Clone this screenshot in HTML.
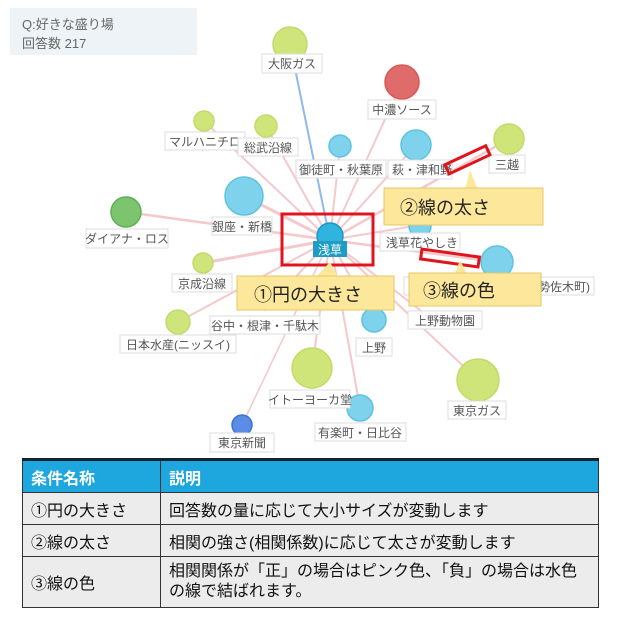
<!DOCTYPE html>
<html><head><meta charset="utf-8"><style>
body{margin:0;background:#fff;width:631px;height:620px;overflow:hidden;font-family:"Liberation Sans","Noto Sans CJK JP",sans-serif}
svg text{font-family:"Liberation Sans","Noto Sans CJK JP",sans-serif}
table{position:absolute;left:22px;top:458px;width:577px;border-collapse:collapse;font-size:16px;color:#111}
td{border:1.5px solid #333;padding:0 8px;background:#ececec}
th{background:#1ea6de;color:#fff;text-align:left;padding:0 8px;height:31px;border:1.5px solid #333;border-top:3px solid #123;font-size:16px}
</style></head><body>
<svg width="631" height="620" style="position:absolute;left:0;top:0">
<rect x="10" y="8" width="187" height="47" fill="#eef3f8"/>
<text x="22" y="29" font-size="13" fill="#666">Q:好きな盛り場</text>
<text x="22" y="48" font-size="13" fill="#666">回答数 217</text>
<g stroke="#f5c8cb" stroke-linecap="round">
<line x1="330" y1="240" x2="402" y2="82" stroke-width="2"/>
<line x1="330" y1="240" x2="204" y2="121" stroke-width="2"/>
<line x1="330" y1="240" x2="266" y2="126" stroke-width="2"/>
<line x1="330" y1="240" x2="340" y2="146" stroke-width="2"/>
<line x1="330" y1="240" x2="416" y2="145" stroke-width="2"/>
<line x1="330" y1="240" x2="509" y2="139" stroke-width="2.5"/>
<line x1="330" y1="240" x2="244" y2="196" stroke-width="3"/>
<line x1="330" y1="240" x2="126" y2="212" stroke-width="2.5"/>
<line x1="330" y1="240" x2="497" y2="262" stroke-width="2.5"/>
<line x1="330" y1="240" x2="203" y2="263" stroke-width="3"/>
<line x1="330" y1="240" x2="178" y2="322" stroke-width="2"/>
<line x1="330" y1="240" x2="374" y2="320" stroke-width="2"/>
<line x1="330" y1="240" x2="312" y2="368" stroke-width="2"/>
<line x1="330" y1="240" x2="360" y2="408" stroke-width="2"/>
<line x1="330" y1="240" x2="478" y2="380" stroke-width="2"/>
<line x1="330" y1="240" x2="242" y2="425" stroke-width="1.5"/>
<line x1="330" y1="240" x2="430" y2="318" stroke-width="2"/>
<line x1="330" y1="240" x2="265" y2="310" stroke-width="2"/>
<line x1="330" y1="240" x2="420" y2="225" stroke-width="2"/>
</g>
<line x1="330" y1="240" x2="290" y2="44" stroke="#8fb8ec" stroke-width="2"/>
<g stroke-width="1.5">
<circle cx="290" cy="44" r="17" fill="#cfe57a" stroke="#bfdc6a"/>
<circle cx="402" cy="82" r="17" fill="#e06b6b" stroke="#d55"/>
<circle cx="204" cy="121" r="10" fill="#cfe57a" stroke="#bfdc6a"/>
<circle cx="266" cy="126" r="11" fill="#cfe57a" stroke="#bfdc6a"/>
<circle cx="340" cy="146" r="11" fill="#7fd2ec" stroke="#5cc2e0"/>
<circle cx="416" cy="145" r="15" fill="#7fd2ec" stroke="#5cc2e0"/>
<circle cx="509" cy="139" r="15" fill="#cfe57a" stroke="#bfdc6a"/>
<circle cx="244" cy="196" r="19" fill="#7fd2ec" stroke="#5cc2e0"/>
<circle cx="126" cy="212" r="15" fill="#7cc46e" stroke="#5fae55"/>
<circle cx="420" cy="226" r="11" fill="#7fd2ec" stroke="#5cc2e0"/>
<circle cx="497" cy="262" r="16" fill="#7fd2ec" stroke="#5cc2e0"/>
<circle cx="203" cy="263" r="10" fill="#cfe57a" stroke="#bfdc6a"/>
<circle cx="178" cy="322" r="12" fill="#cfe57a" stroke="#bfdc6a"/>
<circle cx="374" cy="320" r="12" fill="#7fd2ec" stroke="#5cc2e0"/>
<circle cx="312" cy="368" r="20" fill="#cfe57a" stroke="#bfdc6a"/>
<circle cx="360" cy="408" r="13" fill="#7fd2ec" stroke="#5cc2e0"/>
<circle cx="478" cy="380" r="21" fill="#cfe57a" stroke="#bfdc6a"/>
<circle cx="242" cy="425" r="10" fill="#5b8de8" stroke="#3f72d0"/>
<circle cx="330" cy="236" r="13" fill="#2fb4de" stroke="#1a98c8"/>
</g>
<g font-size="12" fill="#555" stroke-width="1">
<rect x="262" y="54" width="60" height="19" fill="#fff" stroke="#ddd"/><text x="292" y="68" text-anchor="middle">大阪ガス</text>
<rect x="368" y="100" width="68" height="19" fill="#fff" stroke="#ddd"/><text x="402" y="114" text-anchor="middle">中濃ソース</text>
<rect x="165" y="132" width="80" height="18" fill="#fff" stroke="#ddd"/><text x="205" y="146" text-anchor="middle">マルハニチロ</text>
<rect x="238" y="138" width="60" height="18" fill="#fff" stroke="#ddd"/><text x="268" y="152" text-anchor="middle">総武沿線</text>
<rect x="296" y="160" width="90" height="18" fill="#fff" stroke="#ddd"/><text x="341" y="174" text-anchor="middle">御徒町・秋葉原</text>
<rect x="388" y="160" width="64" height="19" fill="#fff" stroke="#ddd"/><text x="392" y="174">萩・津和野</text>
<rect x="489" y="155" width="36" height="18" fill="#fff" stroke="#ddd"/><text x="507" y="169" text-anchor="middle">三越</text>
<rect x="212" y="217" width="60" height="18" fill="#fff" stroke="#ddd"/><text x="242" y="231" text-anchor="middle">銀座・新橋</text>
<rect x="86" y="229" width="82" height="19" fill="#fff" stroke="#ddd"/><text x="127" y="243" text-anchor="middle">ダイアナ・ロス</text>
<rect x="380" y="233" width="80" height="18" fill="#fff" stroke="#ddd"/><text x="386" y="247">浅草花やしき</text>
<rect x="404" y="277" width="190" height="18" fill="#fff" stroke="#ddd"/><text x="590" y="291" text-anchor="end">伊勢佐木町)</text>
<rect x="172" y="274" width="60" height="18" fill="#fff" stroke="#ddd"/><text x="202" y="288" text-anchor="middle">京成沿線</text>
<rect x="408" y="311" width="74" height="18" fill="#fff" stroke="#ddd"/><text x="445" y="325" text-anchor="middle">上野動物園</text>
<rect x="210" y="316" width="110" height="18" fill="#fff" stroke="#ddd"/><text x="265" y="330" text-anchor="middle">谷中・根津・千駄木</text>
<rect x="120" y="335" width="116" height="18" fill="#fff" stroke="#ddd"/><text x="178" y="349" text-anchor="middle">日本水産(ニッスイ)</text>
<rect x="356" y="338" width="36" height="18" fill="#fff" stroke="#ddd"/><text x="374" y="352" text-anchor="middle">上野</text>
<rect x="270" y="390" width="80" height="18" fill="#fff" stroke="#ddd"/><text x="310" y="404" text-anchor="middle">イトーヨーカ堂</text>
<rect x="448" y="401" width="58" height="18" fill="#fff" stroke="#ddd"/><text x="477" y="415" text-anchor="middle">東京ガス</text>
<rect x="315" y="423" width="91" height="18" fill="#fff" stroke="#ddd"/><text x="360" y="437" text-anchor="middle">有楽町・日比谷</text>
<rect x="210" y="433" width="64" height="19" fill="#fff" stroke="#ddd"/><text x="242" y="447" text-anchor="middle">東京新聞</text>
</g>
<rect x="313" y="241" width="34" height="16" fill="#1e9cc4"/>
<text x="330" y="254" font-size="12" fill="#fff" text-anchor="middle">浅草</text>
<rect x="282" y="214" width="91" height="51" fill="none" stroke="#e0141c" stroke-width="3"/>
<rect x="445" y="155" width="45" height="10" fill="none" stroke="#e0141c" stroke-width="3" transform="rotate(-25 467 160)"/>
<rect x="421" y="253" width="58" height="10" fill="none" stroke="#e0141c" stroke-width="3" transform="rotate(8 450 258)"/>
<g fill="#fde79a" stroke="#e2c96a">
<polygon points="465,190 470,170 478,190" stroke="none"/>
<rect x="384" y="188" width="159" height="37"/>
<polygon points="455,274 460,260 467,274" stroke="none"/>
<rect x="409" y="273" width="132" height="33"/>
<polygon points="316,277 330,262 338,277" stroke="none"/>
<rect x="237" y="276" width="157" height="34"/>
</g>
<text x="400" y="214" font-size="18" fill="#222">②線の太さ</text>
<text x="423" y="297" font-size="18" fill="#222">③線の色</text>
<text x="254" y="301" font-size="18" fill="#222">①円の大きさ</text>
</svg>
<table>
<tr><th style="width:121px">条件名称</th><th>説明</th></tr>
<tr style="height:32px"><td>①円の大きさ</td><td>回答数の量に応じて大小サイズが変動します</td></tr>
<tr style="height:32px"><td>②線の太さ</td><td>相関の強さ(相関係数)に応じて太さが変動します</td></tr>
<tr style="height:51px"><td>③線の色</td><td style="line-height:20px">相関関係が「正」の場合はピンク色、「負」の場合は水色<br>の線で結ばれます。</td></tr>
</table>
</body></html>
